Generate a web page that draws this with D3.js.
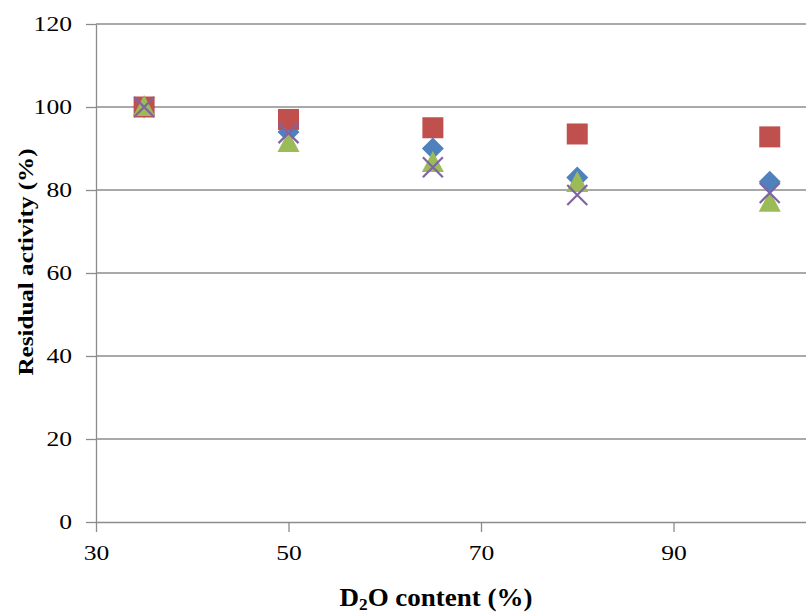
<!DOCTYPE html>
<html><head><meta charset="utf-8">
<script src="https://cdn.jsdelivr.net/npm/d3@7"></script>
<style>body{margin:0;background:#fff}svg{display:block}text{font-family:"Liberation Serif","Times New Roman",serif}</style>
</head><body><svg id="c" width="806" height="615"></svg>
<script>
const xValues = [35, 50, 65, 80, 100];
const seriesDiamond = [100, 94, 90, 83, 82];
const seriesSquare = [100, 97, 95, 93.5, 92.8];
const seriesTriangle = [100, 91.3, 86.5, 81.7, 76.9];
const seriesCross = [100, 93.7, 85.5, 78.8, 79.3];
const xTicks = [30, 50, 70, 90];
const yTicks = [0, 20, 40, 60, 80, 100, 120];
const colors = {diamond:"#4F81BD", square:"#C0504D", triangle:"#9BBB59", cross:"#8064A2"};

const svg = d3.select("#c");
const x = d3.scaleLinear().domain([30, 110]).range([96, 866]);
const y = d3.scaleLinear().domain([0, 120]).range([522, 24]);
const grid = "#8c8c8c";
const SX = 1.28;

// gridlines
svg.append("g").selectAll("line").data(yTicks.filter(d=>d>0)).join("line")
  .attr("x1", 96).attr("x2", 806).attr("y1", d=>y(d)).attr("y2", d=>y(d))
  .attr("stroke", grid).attr("stroke-width", 1.3);

// y axis
const ya = svg.append("g").attr("transform","translate(96,0)")
  .call(d3.axisLeft(y).tickValues(yTicks).tickSize(10).tickPadding(14).tickSizeOuter(0));
// x axis
const xa = svg.append("g").attr("transform","translate(0,522)")
  .call(d3.axisBottom(x).tickValues(xTicks).tickSize(10).tickPadding(14).tickSizeOuter(0));
[ya, xa].forEach(a=>{
  a.select(".domain").attr("stroke", grid).attr("stroke-width",1.3);
  a.selectAll(".tick line").attr("stroke", grid).attr("stroke-width",1.3);
  a.selectAll("text").attr("fill","#000").style("font-size","20px").style("font-family","Liberation Serif")
    .attr("transform", `scale(${SX},1)`);
});
ya.selectAll("text").attr("x", -24 / SX).attr("dy","0.34em");

svg.append("text").attr("transform","translate(436,606) scale(1.08,1)").attr("text-anchor","middle")
  .style("font-size","25px").style("font-weight","bold")
  .html('D<tspan dy="4" font-size="16">2</tspan><tspan dy="-4">O content (%)</tspan>');
svg.append("text").attr("transform","translate(33,262) rotate(-90) scale(1.14,1)").attr("text-anchor","middle")
  .style("font-size","22px").style("font-weight","bold").text("Residual activity (%)");

const pts = arr => xValues.map((v,i)=>[x(v), y(arr[i])]);
const gM = svg.append("g");
// diamonds
gM.selectAll(".dia").data(pts(seriesDiamond)).join("path")
  .attr("d", d=>`M${d[0]},${d[1]-11}L${d[0]+11},${d[1]}L${d[0]},${d[1]+11}L${d[0]-11},${d[1]}Z`)
  .attr("fill", colors.diamond);
// squares
gM.selectAll(".sq").data(pts(seriesSquare)).join("rect")
  .attr("x", d=>d[0]-10.5).attr("y", d=>d[1]-10.5).attr("width",21).attr("height",21)
  .attr("fill", colors.square);
// triangles
gM.selectAll(".tri").data(pts(seriesTriangle)).join("path")
  .attr("d", d=>`M${d[0]},${d[1]-12}L${d[0]+11},${d[1]+9}L${d[0]-11},${d[1]+9}Z`)
  .attr("fill", colors.triangle);
// crosses
gM.selectAll(".x").data(pts(seriesCross)).join("path")
  .attr("d", d=>`M${d[0]-10},${d[1]-10}L${d[0]+10},${d[1]+10}M${d[0]+10},${d[1]-10}L${d[0]-10},${d[1]+10}`)
  .attr("stroke", colors.cross).attr("stroke-width", 2.2).attr("fill","none");
</script></body></html>
